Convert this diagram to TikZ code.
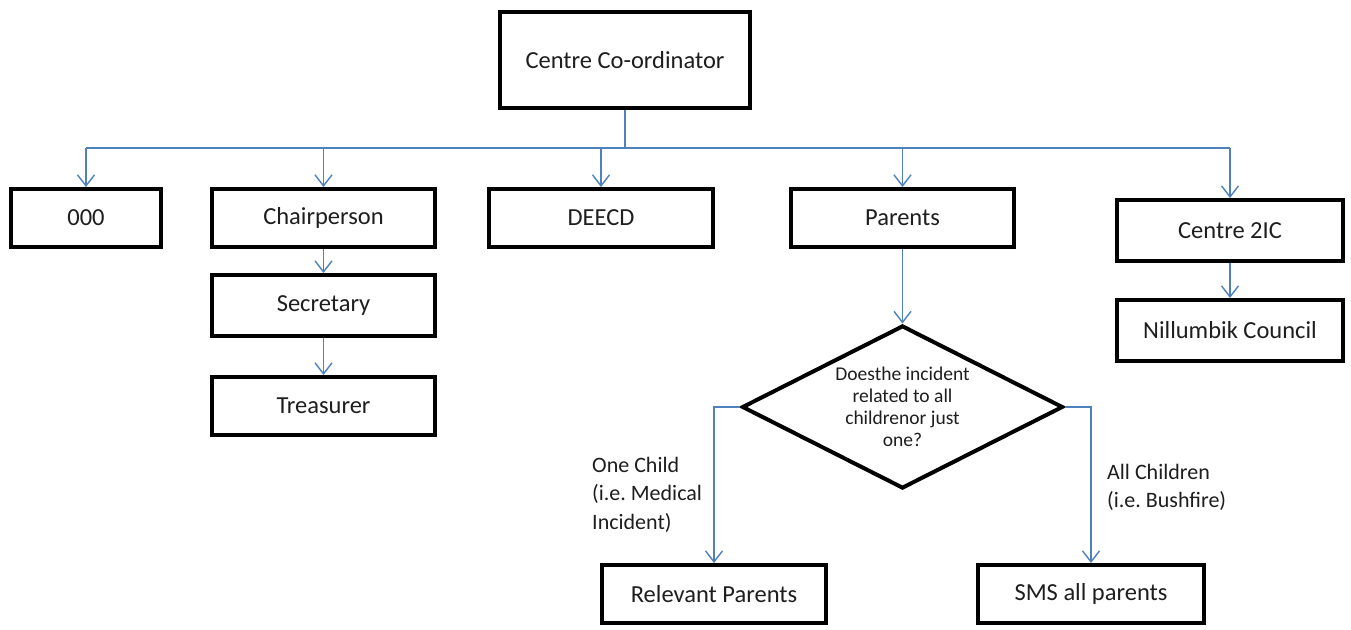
\documentclass[tikz,border=0pt]{standalone}
\usepackage{fontspec}
\setmainfont{Carlito}
\usetikzlibrary{arrows.meta,shapes.geometric}
\definecolor{connblue}{RGB}{79,129,189}
\definecolor{txt}{RGB}{30,30,30}
\frenchspacing
\begin{document}
\begin{tikzpicture}[x=1pt,y=-1pt,
  box/.style={draw=black, line width=4pt, rectangle, inner sep=0pt, text=txt,
    font=\fontsize{24.5}{29}\selectfont},
  dec/.style={draw=black, line width=4pt, diamond, shape aspect=2, inner sep=0pt, text=txt,
    align=center, minimum width=321pt, minimum height=163pt,
    font=\fontsize{19.5}{22}\selectfont},
  lbl/.style={inner sep=0pt, align=left, anchor=north west, text=txt,
    font=\fontsize{22}{28.5}\selectfont},
  conn/.style={draw=connblue, line width=1.4pt},
  arr/.style={conn, -{Straight Barb[length=11pt,width=17pt,line width=1.4pt]}}]
\useasboundingbox[fill=white] (0,0) rectangle (1351,629);

\node[box, minimum width=250pt, minimum height=96pt] (coord) at (625,60) {Centre Co-ordinator};
\node[box, minimum width=150pt, minimum height=58pt] (n000) at (86,218) {000};
\node[box, minimum width=223pt, minimum height=58pt] (chair) at (323.5,218) {Chairperson};
\node[box, minimum width=223pt, minimum height=61pt] (sec) at (323.5,305.5) {Secretary};
\node[box, minimum width=223pt, minimum height=58pt] (treas) at (323.5,406) {Treasurer};
\node[box, minimum width=224pt, minimum height=58pt] (deecd) at (601,218) {DEECD};
\node[box, minimum width=223pt, minimum height=58pt] (parents) at (902.5,218) {Parents};
\node[box, minimum width=226pt, minimum height=61pt] (c2ic) at (1230,230.5) {Centre 2IC};
\node[box, minimum width=226pt, minimum height=61pt] (nill) at (1230,330.5) {Nillumbik Council};
\node[dec] (dia) at (902.5,407) {Doesthe incident\\related to all\\childrenor just\\one?};
\node[box, minimum width=224pt, minimum height=58pt] (rel) at (714,594) {Relevant Parents};
\node[box, minimum width=226pt, minimum height=58pt] (sms) at (1091,594) {SMS all parents};

\node[lbl] (l1) at (592,457) {One Child\\(i.e. Medical\\Incident)};
\node[lbl] (l2) at (1107,464) {All Children\\(i.e. Bushfire)};

\coordinate (bus) at (625,148);
\draw[conn] (coord.south) -- (bus);
\draw[conn] (n000 |- bus) -- (c2ic |- bus);
\draw[arr] (n000 |- bus) -- (n000.north);
\draw[arr] (chair |- bus) -- (chair.north);
\draw[arr] (deecd |- bus) -- (deecd.north);
\draw[arr] (parents |- bus) -- (parents.north);
\draw[arr] (c2ic |- bus) -- (c2ic.north);
\draw[arr] (chair.south) -- (sec.north);
\draw[arr] (sec.south) -- (treas.north);
\draw[arr] (c2ic.south) -- (nill.north);
\draw[arr] (parents.south) -- (dia.north);
\draw[arr] (dia.west) -| (rel.north);
\draw[arr] (dia.east) -| (sms.north);
\end{tikzpicture}
\end{document}
